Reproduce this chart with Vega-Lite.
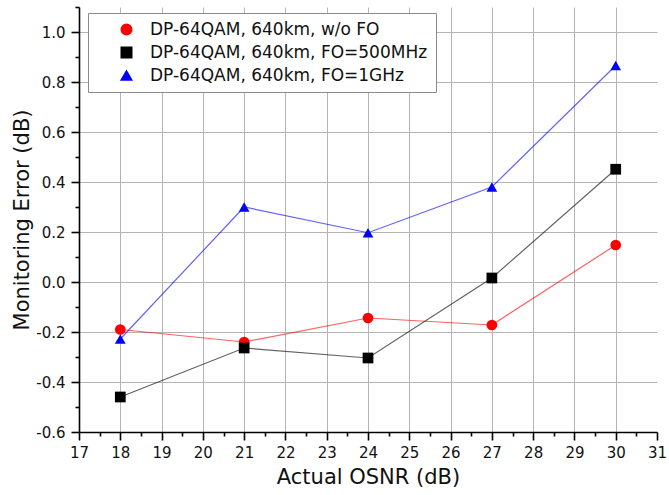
{
  "$schema": "https://vega.github.io/schema/vega-lite/v6.json",
  "width": 578,
  "height": 425,
  "autosize": {"type": "none"},
  "padding": {"left": 79, "top": 7, "right": 12, "bottom": 63},
  "background": "white",
  "data": {
    "values": [
      {"series": "DP-64QAM, 640km, w/o FO", "osnr": 18, "err": -0.19},
      {"series": "DP-64QAM, 640km, w/o FO", "osnr": 21, "err": -0.24},
      {"series": "DP-64QAM, 640km, w/o FO", "osnr": 24, "err": -0.144},
      {"series": "DP-64QAM, 640km, w/o FO", "osnr": 27, "err": -0.172},
      {"series": "DP-64QAM, 640km, w/o FO", "osnr": 30, "err": 0.148},
      {"series": "DP-64QAM, 640km, FO=500MHz", "osnr": 18, "err": -0.46},
      {"series": "DP-64QAM, 640km, FO=500MHz", "osnr": 21, "err": -0.264},
      {"series": "DP-64QAM, 640km, FO=500MHz", "osnr": 24, "err": -0.304},
      {"series": "DP-64QAM, 640km, FO=500MHz", "osnr": 27, "err": 0.016},
      {"series": "DP-64QAM, 640km, FO=500MHz", "osnr": 30, "err": 0.451},
      {"series": "DP-64QAM, 640km, FO=1GHz", "osnr": 18, "err": -0.228},
      {"series": "DP-64QAM, 640km, FO=1GHz", "osnr": 21, "err": 0.3},
      {"series": "DP-64QAM, 640km, FO=1GHz", "osnr": 24, "err": 0.197},
      {"series": "DP-64QAM, 640km, FO=1GHz", "osnr": 27, "err": 0.38},
      {"series": "DP-64QAM, 640km, FO=1GHz", "osnr": 30, "err": 0.866}
    ]
  },
  "encoding": {
    "x": {
      "field": "osnr",
      "type": "quantitative",
      "scale": {"domain": [17, 31], "nice": false, "zero": false},
      "axis": {
        "title": "Actual OSNR (dB)",
        "values": [17, 17.5, 18, 18.5, 19, 19.5, 20, 20.5, 21, 21.5, 22, 22.5, 23, 23.5, 24, 24.5, 25, 25.5, 26, 26.5, 27, 27.5, 28, 28.5, 29, 29.5, 30, 30.5, 31],
        "labelExpr": "datum.value % 1 === 0 ? format(datum.value, 'd') : ''",
        "tickSize": {"condition": {"test": "datum.value % 1 !== 0", "value": 4}, "value": 8},
        "gridOpacity": {"condition": {"test": "datum.value % 1 !== 0 || datum.value === 17 || datum.value === 31", "value": 0}, "value": 1},
        "labelPadding": 5,
        "labelFlush": false,
        "labelOverlap": false,
        "titlePadding": 6
      }
    },
    "y": {
      "field": "err",
      "type": "quantitative",
      "scale": {"domain": [-0.6, 1.1], "nice": false, "zero": false},
      "axis": {
        "title": "Monitoring Error (dB)",
        "values": [-0.6, -0.5, -0.4, -0.3, -0.2, -0.1, 0, 0.1, 0.2, 0.3, 0.4, 0.5, 0.6, 0.7, 0.8, 0.9, 1.0, 1.1],
        "labelExpr": "abs(datum.value * 5 - round(datum.value * 5)) < 0.001 ? replace(format(datum.value, '.1f'), '\u2212', '-') : ''",
        "tickSize": {"condition": {"test": "abs(datum.value * 5 - round(datum.value * 5)) > 0.001", "value": 4}, "value": 8},
        "gridOpacity": {"condition": {"test": "abs(datum.value * 5 - round(datum.value * 5)) > 0.001", "value": 0}, "value": 1},
        "labelPadding": 6,
        "labelOverlap": false,
        "labelFlush": false,
        "titlePadding": 3
      }
    },
    "color": {
      "field": "series",
      "type": "nominal",
      "scale": {
        "domain": ["DP-64QAM, 640km, w/o FO", "DP-64QAM, 640km, FO=500MHz", "DP-64QAM, 640km, FO=1GHz"],
        "range": ["#ff0000", "#000000", "#0000ff"]
      },
      "legend": {
        "title": null,
        "orient": "none",
        "legendX": 9,
        "legendY": 6,
        "padding": 8,
        "strokeColor": "#8c8c8c",
        "fillColor": "white",
        "symbolSize": 110,
        "symbolOpacity": 1,
        "symbolOffset": 22,
        "labelOffset": 15,
        "rowPadding": 5,
        "labelFont": "DejaVu Sans",
        "labelFontSize": 17,
        "labelColor": "#111111",
        "labelLimit": 400
      }
    }
  },
  "layer": [
    {
      "mark": {"type": "line", "strokeWidth": 1.2, "opacity": 0.62}
    },
    {
      "mark": {"type": "point", "filled": true, "opacity": 1, "strokeWidth": 0, "size": 115},
      "encoding": {
        "shape": {
          "field": "series",
          "type": "nominal",
          "scale": {
            "domain": ["DP-64QAM, 640km, w/o FO", "DP-64QAM, 640km, FO=500MHz", "DP-64QAM, 640km, FO=1GHz"],
            "range": ["circle", "square", "triangle-up"]
          }
        }
      }
    }
  ],
  "config": {
    "view": {"stroke": null},
    "font": "DejaVu Sans",
    "axis": {
      "domainColor": "#000000",
      "domainWidth": 1.6,
      "tickColor": "#000000",
      "tickWidth": 1.6,
      "gridColor": "#b4b4b4",
      "gridWidth": 1,
      "labelFont": "DejaVu Sans",
      "labelFontSize": 15,
      "labelColor": "#111111",
      "titleFont": "DejaVu Sans",
      "titleFontSize": 21,
      "titleFontWeight": "normal",
      "titleColor": "#111111"
    }
  }
}
